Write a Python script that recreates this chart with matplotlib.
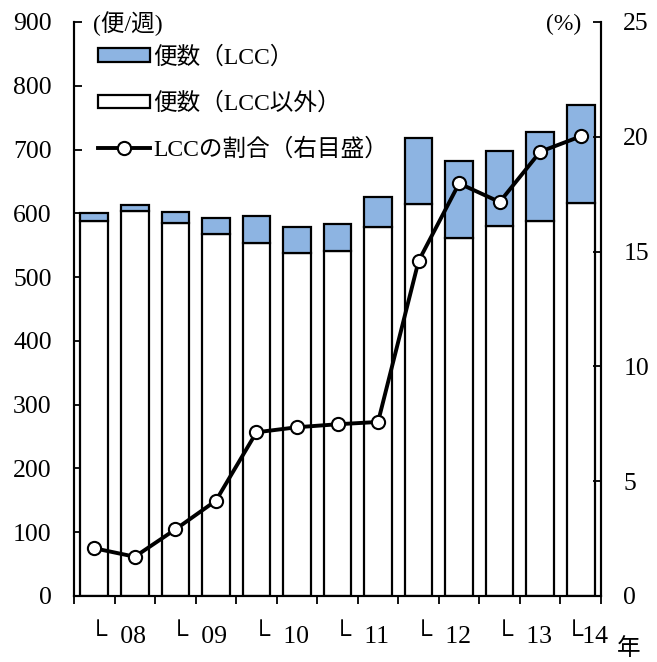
import matplotlib
matplotlib.use("Agg")
import matplotlib.pyplot as plt
from matplotlib.patches import Patch
from matplotlib.lines import Line2D
from matplotlib.transforms import blended_transform_factory

plt.rcParams['font.family'] = ['Liberation Serif', 'Noto Sans CJK JP', 'DejaVu Sans']

# Weekly flights per half-year period (2008 - 2014)
flights_lcc = [11.6, 9.9, 16.7, 23.6, 42.3, 40.8, 42.5, 47.1, 103.5, 120.7, 118.6, 139.6, 152.7]
flights_other = [588.4, 603.2, 585.4, 568.3, 553.9, 538.2, 540.8, 579.0, 614.1, 561.8, 579.6, 588.4, 616.6]
lcc_share = [2.08, 1.71, 2.90, 4.15, 7.13, 7.35, 7.48, 7.58, 14.59, 17.97, 17.16, 19.35, 20.02]
year_labels = ['08', '09', '10', '11', '12', '13', '14']

LCC_BLUE = '#8DB4E2'
FS_TICK = 18.5
FS = 17

fig = plt.figure(figsize=(6.57, 6.62), dpi=100)
ax = fig.add_axes([74/657, 1 - 596/662, 527/657, 574/662])
ax2 = ax.twinx()

x = list(range(len(flights_lcc)))
bw = 0.68
ax.bar(x, flights_other, width=bw, color='white', edgecolor='black', linewidth=1.6, zorder=2)
ax.bar(x, flights_lcc, width=bw, bottom=flights_other, color=LCC_BLUE,
       edgecolor='black', linewidth=1.6, zorder=2)

ax2.plot(x, lcc_share, color='black', linewidth=2.8, marker='o', markersize=9.5,
         markerfacecolor='white', markeredgecolor='black', markeredgewidth=1.5,
         zorder=3, clip_on=False)

ax.set_xlim(-0.5, len(x) - 0.5)
ax.set_ylim(0, 900)
ax2.set_ylim(0, 25)
ax.set_yticks(range(0, 901, 100))
ax2.set_yticks(range(0, 26, 5))

ax.set_xticks([i - 0.5 for i in range(len(x) + 1)])
ax.set_xticklabels([])
ax.tick_params(axis='x', direction='out', length=6, width=1.3)
ax.tick_params(axis='y', direction='in', length=6, width=1.3, labelsize=FS_TICK, pad=16)
ax2.tick_params(axis='y', direction='in', length=6, width=1.3, labelsize=FS_TICK, pad=16)

for a in (ax, ax2):
    a.spines['top'].set_visible(False)
    for s in ('left', 'right', 'bottom'):
        a.spines[s].set_linewidth(1.5)

# Year labels along the category axis
trans = blended_transform_factory(ax.transData, ax.transAxes)
for k, yl in enumerate(year_labels[:-1]):
    ax.text(2 * k - 0.12, -0.07, '└  ' + yl, transform=trans, ha='left', va='center',
            fontsize=FS_TICK)
ax.text(2 * (len(year_labels) - 1) - 0.38, -0.07, '└' + year_labels[-1], transform=trans,
        ha='left', va='center', fontsize=FS_TICK)
fig.text(629/657, 1 - 649/662, '年', ha='center', va='center', fontsize=FS)

# Unit labels
fig.text(93/657, 1 - 24/662, '(便/週)', ha='left', va='center', fontsize=FS)
fig.text(581/657, 1 - 24/662, '(%)', ha='right', va='center', fontsize=FS)

handles = [
    Patch(facecolor=LCC_BLUE, edgecolor='black', linewidth=1.6),
    Patch(facecolor='white', edgecolor='black', linewidth=1.6),
    Line2D([], [], color='black', linewidth=2.8, marker='o', markersize=9.5,
           markerfacecolor='white', markeredgecolor='black', markeredgewidth=1.5),
]
labels = ['便数（LCC）', '便数（LCC以外）', 'LCCの割合（右目盛）']
leg = ax2.legend(handles, labels, loc='upper left', bbox_to_anchor=(0.045, 0.958),
                 frameon=False, fontsize=FS, handlelength=2.2, handleheight=0.5,
                 handletextpad=0.15, labelspacing=1.0, borderpad=0, borderaxespad=0)

fig.savefig('out.png', dpi=100)
